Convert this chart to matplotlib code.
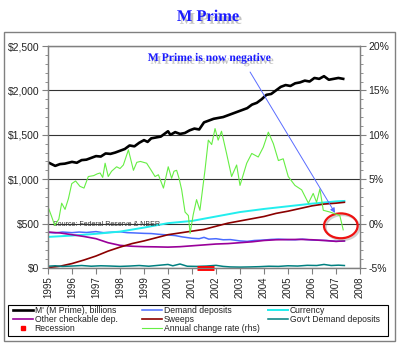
import matplotlib
matplotlib.use('Agg')
import matplotlib.pyplot as plt
import matplotlib.patheffects as pe
from matplotlib.patches import Rectangle, Ellipse
from matplotlib.ticker import FuncFormatter, MultipleLocator

# M' (M Prime), billions
mp_years = [1995.0, 1995.15, 1995.3, 1995.5, 1995.7, 1996.0, 1996.2, 1996.4, 1996.6, 1996.8,
            1997.0, 1997.2, 1997.4, 1997.6, 1997.8, 1998.0, 1998.2, 1998.4, 1998.6, 1998.8,
            1999.0, 1999.15, 1999.3, 1999.5, 1999.7, 1999.9, 2000.0, 2000.1, 2000.3, 2000.5,
            2000.7, 2000.9, 2001.1, 2001.3, 2001.5, 2001.7, 2001.9, 2002.1, 2002.3, 2002.5,
            2002.7, 2002.9, 2003.1, 2003.3, 2003.5, 2003.7, 2003.9, 2004.1, 2004.3, 2004.5,
            2004.7, 2004.9, 2005.1, 2005.3, 2005.5, 2005.7, 2005.9, 2006.1, 2006.3, 2006.5,
            2006.7, 2006.9, 2007.1, 2007.3]
mp_vals = [1190, 1170, 1150, 1170, 1175, 1195, 1185, 1215, 1220, 1240,
           1260, 1255, 1290, 1285, 1300, 1320, 1340, 1380, 1370, 1410,
           1440, 1420, 1460, 1470, 1480, 1520, 1540, 1500, 1530, 1510,
           1520, 1550, 1570, 1560, 1640, 1660, 1680, 1690, 1700, 1720,
           1740, 1760, 1780, 1800, 1840, 1860, 1900, 1950, 1960, 2000,
           2040, 2060, 2050, 2080, 2090, 2110, 2100, 2140, 2130, 2160,
           2120, 2130, 2140, 2130]

# Demand deposits
dd_years = [1995, 1995.3, 1995.6, 1996, 1996.3, 1996.6, 1997, 1997.3, 1997.6, 1998,
            1998.3, 1998.6, 1999, 1999.3, 1999.6, 2000, 2000.3, 2000.6, 2001, 2001.3,
            2001.5, 2001.7, 2002, 2002.3, 2002.6, 2003, 2003.3, 2003.6, 2004, 2004.3,
            2004.6, 2005, 2005.3, 2005.6, 2006, 2006.3, 2006.6, 2007, 2007.35]
dd_vals = [400, 395, 405, 398, 405, 400, 410, 398, 402, 408,
           398, 395, 390, 388, 380, 372, 365, 350, 335, 330,
           345, 325, 330, 318, 320, 305, 300, 310, 315, 322,
           325, 320, 318, 325, 315, 312, 310, 300, 305]

# Currency
cu_years = [1995, 1996, 1997, 1998, 1999, 2000, 2001, 2002, 2003, 2004, 2005, 2006, 2007, 2007.35]
cu_vals = [350, 365, 385, 410, 455, 505, 530, 580, 630, 665, 695, 725, 750, 755]

# Other checkable deposits
oc_years = [1995, 1995.5, 1996, 1996.5, 1997, 1997.5, 1998, 1998.5, 1999, 1999.5,
            2000, 2000.5, 2001, 2001.5, 2002, 2002.5, 2003, 2003.5, 2004, 2004.5,
            2005, 2005.5, 2006, 2006.5, 2007, 2007.35]
oc_vals = [405, 395, 375, 355, 330, 285, 255, 245, 240, 238,
           235, 240, 250, 260, 270, 275, 285, 295, 310, 318,
           320, 322, 318, 310, 300, 305]

# Sweeps
sw_years = [1995, 1995.5, 1996, 1996.5, 1997, 1997.5, 1998, 1998.5, 1999, 1999.5,
            2000, 2000.5, 2001, 2001.5, 2002, 2002.5, 2003, 2003.5, 2004, 2004.5,
            2005, 2005.5, 2006, 2006.5, 2007, 2007.35]
sw_vals = [5, 20, 50, 90, 135, 190, 235, 275, 305, 340,
           375, 395, 415, 435, 470, 505, 530, 555, 580, 615,
           640, 670, 700, 720, 730, 740]

# Gov't demand deposits
gd_years = [1995, 1995.3, 1995.6, 1996, 1996.4, 1996.8, 1997.2, 1997.6, 1998, 1998.4,
            1998.8, 1999.2, 1999.6, 2000, 2000.2, 2000.5, 2000.8, 2001.2, 2001.6, 2002,
            2002.3, 2002.6, 2003, 2003.4, 2003.8, 2004.2, 2004.6, 2005, 2005.4, 2005.8,
            2006.2, 2006.5, 2006.8, 2007.1, 2007.35]
gd_vals = [20, 25, 18, 22, 28, 20, 25, 22, 18, 22,
           28, 20, 30, 40, 25, 45, 20, 18, 22, 30,
           18, 12, 10, 12, 15, 20, 18, 25, 22, 30,
           28, 40, 28, 32, 28]

# Annual change rate (rhs), percent
ch_years = [1995.0, 1995.15, 1995.28, 1995.45, 1995.57, 1995.71, 1995.85, 1995.99, 1996.15, 1996.33,
            1996.5, 1996.68, 1996.9, 1997.05, 1997.17, 1997.28, 1997.38, 1997.51, 1997.65, 1997.86,
            1998.0, 1998.14, 1998.35, 1998.56, 1998.7, 1998.85, 1999.11, 1999.3, 1999.46, 1999.6,
            1999.81, 2000.01, 2000.15, 2000.25, 2000.36, 2000.47, 2000.57, 2000.71, 2000.85, 2000.92,
            2001.05, 2001.19, 2001.33, 2001.54, 2001.68, 2001.82, 2001.96, 2002.09, 2002.23, 2002.44,
            2002.65, 2002.86, 2003.0, 2003.28, 2003.49, 2003.76, 2003.97, 2004.18, 2004.39, 2004.6,
            2004.8, 2005.01, 2005.29, 2005.57, 2005.85, 2006.05, 2006.19, 2006.33, 2006.47, 2006.75,
            2006.96, 2007.16, 2007.3]
ch_vals = [1.9, 0.8, -0.2, 0.5, 2.3, 1.6, 2.8, 4.5, 4.8, 4.2,
           4.0, 5.3, 5.4, 5.6, 5.7, 5.2, 6.8, 5.3, 5.9, 6.4,
           6.2, 6.6, 8.3, 6.0, 6.9, 7.0, 6.8, 6.0, 5.3, 5.5,
           4.0, 6.4, 5.1, 5.9, 6.0, 5.0, 3.8, 1.3, 0.9, -1.1,
           1.0, 2.7, 1.5, 6.0, 9.4, 8.9, 10.7, 9.4, 10.4, 7.9,
           5.3, 6.6, 4.3, 6.8, 7.9, 7.5, 8.6, 10.3, 9.0, 7.1,
           7.3, 5.3, 4.3, 3.8, 2.3, 3.4, 2.4, 3.9, 1.5, 1.3,
           1.1, 0.9, -0.7]

recession = [2001.2, 2001.9]
year_ticks = list(range(1995, 2009))

plt.rcParams['font.family'] = ['Liberation Sans', 'DejaVu Sans']

fig = plt.figure(figsize=(4.0, 3.46), dpi=100)
W, H = 400, 346

def fx(px):
    return px / W

def fy(py):
    return 1 - py / H

# outer frame
fig.patches.append(Rectangle((fx(4), fy(341)), fx(391), 309 / H, transform=fig.transFigure,
                             fill=False, edgecolor='#808080', lw=1.0))

ax = fig.add_axes([fx(48), fy(268), fx(312), 222 / H])
ax2 = ax.twinx()

ax.plot(dd_years, dd_vals, color='#4a6cff', lw=1.1, label='Demand deposits')
ax.plot(cu_years, cu_vals, color='#22eeee', lw=1.4, label='Currency')
ax.plot(oc_years, oc_vals, color='#990099', lw=1.2, label='Other checkable dep.')
ax.plot(sw_years, sw_vals, color='#8b0000', lw=1.2, label='Sweeps')
ax.plot(gd_years, gd_vals, color='#008080', lw=1.1, label="Gov't Demand deposits")
ax.plot(mp_years, mp_vals, color='black', lw=1.9, label="M' (M Prime), billions")
ax.plot(recession, [0, 0], color='#ff0000', lw=3.5, solid_capstyle='butt', clip_on=False, zorder=5)

ax2.plot(ch_years, ch_vals, color='#66ee44', lw=0.8, label='Annual change rate (rhs)')

ax.set_xlim(1995, 2008)
ax.set_ylim(0, 2500)
ax2.set_ylim(-5, 20)

ax.set_xticks(year_ticks)
ax.set_xticklabels([str(y) for y in year_ticks], rotation=90, fontsize=7)
ax.yaxis.set_major_locator(MultipleLocator(500))
ax.yaxis.set_minor_locator(MultipleLocator(100))
ax.yaxis.set_major_formatter(FuncFormatter(lambda v, p: '${:,.0f}'.format(v)))
ax2.yaxis.set_major_locator(MultipleLocator(5))
ax2.yaxis.set_minor_locator(MultipleLocator(1))
ax2.yaxis.set_major_formatter(FuncFormatter(lambda v, p: '{:.0f}%'.format(v)))

ax.tick_params(axis='both', which='major', labelsize=7.5, length=4, width=0.8,
               color='#808080', labelcolor='#222222', pad=2)
ax.tick_params(axis='x', labelsize=7)
ax.tick_params(axis='y', which='minor', length=2, width=0.6, color='#808080')
ax2.tick_params(axis='y', which='major', labelsize=7.5, length=4, width=0.8,
                color='#808080', labelcolor='#222222', pad=2)
ax2.tick_params(axis='y', which='minor', length=2, width=0.6, color='#808080')

for a in (ax, ax2):
    for s in a.spines.values():
        s.set_color('#808080')
        s.set_linewidth(0.9)

ax.grid(axis='y', color='#333333', lw=0.8)
ax.set_axisbelow(True)

# annotations
ax.text(1995.2, 490, 'Source: Federal Reserve & NBER', fontsize=5, color='#333333', va='center')

ax2.add_patch(Ellipse((2007.2, -0.25), 1.4, 2.8, fill=False, edgecolor='#ee1111', lw=1.6,
                      path_effects=[pe.SimpleLineShadow(offset=(1.2, -1.2), shadow_color='#777777',
                                                        alpha=0.35), pe.Normal()],
                      clip_on=False))
ax2.annotate('', xy=(2006.96, 1.2), xytext=(2003.42, 17.07),
             arrowprops=dict(arrowstyle='-|>', color='#5a6cff', lw=0.7, mutation_scale=7,
                             shrinkA=0, shrinkB=0))

shadow = [pe.withSimplePatchShadow(offset=(2, -2), shadow_rgbFace='#888888', alpha=0.5)]
fig.text(fx(209), fy(58), 'M Prime is now negative', ha='center', va='center',
         fontsize=8.4, fontweight='bold', family='Liberation Serif', color='#1a1aff',
         path_effects=shadow)
fig.text(fx(208), fy(17), 'M Prime', ha='center', va='center',
         fontsize=11.8, fontweight='bold', family='Liberation Serif', color='#1a1aff',
         path_effects=shadow)

# legend box
fig.patches.append(Rectangle((fx(8), fy(336)), fx(380), 31 / H, transform=fig.transFigure,
                             fill=False, edgecolor='black', lw=0.8))

lines = {l.get_label(): l for l in ax.get_lines() + ax2.get_lines()}
rec_handle = plt.Line2D([], [], color='#ff0000', marker='s', markersize=2.5, linestyle='none')
columns = [
    ([lines["M' (M Prime), billions"], lines['Other checkable dep.'], rec_handle],
     ["M' (M Prime), billions", 'Other checkable dep.', 'Recession'], 13),
    ([lines['Demand deposits'], lines['Sweeps'], lines['Annual change rate (rhs)']],
     ['Demand deposits', 'Sweeps', 'Annual change rate (rhs)'], 142),
    ([lines['Currency'], lines["Gov't Demand deposits"]],
     ['Currency', "Gov't Demand deposits"], 268),
]
for handles, labels, x0 in columns:
    leg = fig.legend(handles, labels, loc='upper left', bbox_to_anchor=(fx(x0), fy(306)),
                     frameon=False, fontsize=6.2, handlelength=2.3, handletextpad=0.2,
                     labelspacing=0.0, borderpad=0, borderaxespad=0)
    for t in leg.get_texts():
        t.set_color('#222222')

fig.savefig('out.png', dpi=100)
